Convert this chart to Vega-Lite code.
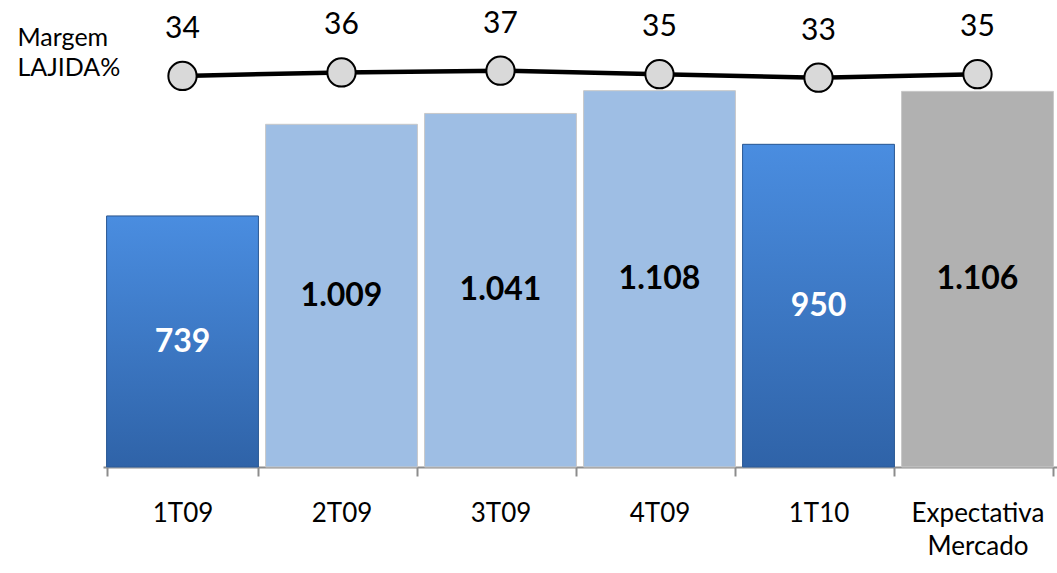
{
  "$schema": "https://vega.github.io/schema/vega-lite/v6.json",
  "width": 954,
  "height": 467,
  "autosize": {"type": "none"},
  "padding": {"left": 103, "top": 0, "right": 0, "bottom": 106},
  "background": "white",
  "config": {"view": {"stroke": null}, "font": "Lato"},
  "data": {
    "values": [
      {"periodo": "1T09", "lajida": 739, "rotulo": "739", "margem": 34, "tipo": "real"},
      {"periodo": "2T09", "lajida": 1009, "rotulo": "1.009", "margem": 36, "tipo": "claro"},
      {"periodo": "3T09", "lajida": 1041, "rotulo": "1.041", "margem": 37, "tipo": "claro"},
      {"periodo": "4T09", "lajida": 1108, "rotulo": "1.108", "margem": 35, "tipo": "claro"},
      {"periodo": "1T10", "lajida": 950, "rotulo": "950", "margem": 33, "tipo": "real"},
      {"periodo": "Expectativa Mercado", "lajida": 1106, "rotulo": "1.106", "margem": 35, "tipo": "expectativa"}
    ]
  },
  "encoding": {
    "x": {
      "field": "periodo",
      "type": "nominal",
      "sort": null,
      "scale": {"paddingInner": 0.045, "paddingOuter": 0.0225},
      "axis": {
        "title": null,
        "labelAngle": 0,
        "labelFont": "Lato",
        "labelFontSize": 26,
        "labelColor": "black",
        "labelPadding": 24,
        "labelLineHeight": 33,
        "labelExpr": "datum.value == 'Expectativa Mercado' ? ['Expectativa', 'Mercado'] : datum.value",
        "tickBand": "extent",
        "tickSize": 9,
        "tickColor": "#8c8c8c",
        "tickWidth": 2,
        "domainColor": "#8c8c8c",
        "domainWidth": 2
      }
    }
  },
  "layer": [
    {
      "mark": {"type": "bar", "stroke": "#c8c8c8", "strokeWidth": 1},
      "encoding": {
        "y": {"field": "lajida", "type": "quantitative", "scale": {"domain": [0, 1375]}, "axis": null},
        "color": {
          "field": "tipo",
          "type": "nominal",
          "scale": {"domain": ["real", "claro", "expectativa"], "range": ["#3b78c6", "#9ebee4", "#b1b1b1"]},
          "legend": null
        }
      }
    },
    {
      "transform": [{"filter": "datum.tipo == 'real'"}],
      "mark": {
        "type": "bar",
        "stroke": "#2c5a96",
        "strokeWidth": 1,
        "color": {
          "gradient": "linear", "x1": 0, "y1": 0, "x2": 0, "y2": 1,
          "stops": [{"offset": 0, "color": "#4a8de0"}, {"offset": 1, "color": "#2f63a8"}]
        }
      },
      "encoding": {
        "y": {"field": "lajida", "type": "quantitative", "scale": {"domain": [0, 1375]}, "axis": null}
      }
    },
    {
      "mark": {"type": "text", "font": "Lato", "fontSize": 32, "fontWeight": "bold", "baseline": "middle", "align": "center"},
      "encoding": {
        "y": {"field": "lajida", "type": "quantitative", "scale": {"domain": [0, 2750]}, "axis": null},
        "text": {"field": "rotulo"},
        "color": {"condition": {"test": "datum.tipo == 'real'", "value": "white"}, "value": "black"}
      }
    },
    {
      "mark": {"type": "line", "color": "black", "strokeWidth": 4.5},
      "encoding": {
        "y": {
          "field": "margem",
          "type": "quantitative",
          "scale": {"domain": [-190, 77.5]},
          "axis": {
            "title": ["Margem", "LAJIDA%"],
            "titleAngle": 0,
            "titleAlign": "left",
            "titleBaseline": "alphabetic",
            "titleX": -86,
            "titleY": 45,
            "titleFont": "Lato",
            "titleFontSize": 25,
            "titleFontWeight": "normal",
            "titleColor": "black",
            "titleLineHeight": 30,
            "labels": false,
            "ticks": false,
            "domain": false,
            "grid": false
          }
        }
      }
    },
    {
      "mark": {"type": "point", "filled": true, "fill": "#d9d9d9", "stroke": "black", "strokeWidth": 2, "size": 800, "opacity": 1},
      "encoding": {
        "y": {"field": "margem", "type": "quantitative", "scale": {"domain": [-190, 77.5]}, "axis": null}
      }
    },
    {
      "mark": {"type": "text", "font": "Lato", "fontSize": 30, "baseline": "middle", "align": "center", "dy": -47, "color": "black"},
      "encoding": {
        "y": {"field": "margem", "type": "quantitative", "scale": {"domain": [-190, 77.5]}, "axis": null},
        "text": {"field": "margem"}
      }
    }
  ],
  "resolve": {"scale": {"y": "independent"}, "axis": {"y": "independent"}}
}
